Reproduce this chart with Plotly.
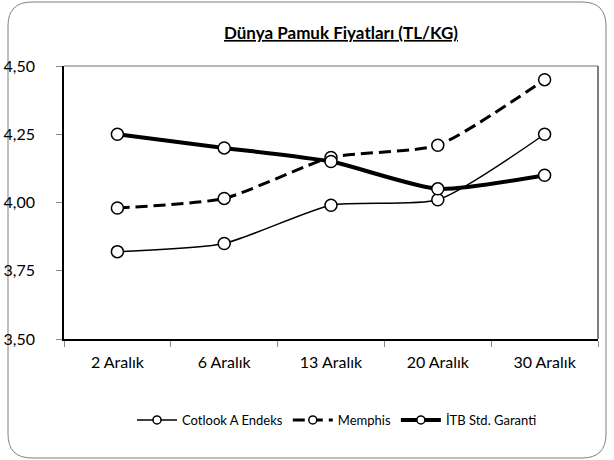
import plotly.graph_objects as go

categories = ["2 Aralık", "6 Aralık", "13 Aralık", "20 Aralık", "30 Aralık"]
cotlook = [3.82, 3.85, 3.99, 4.01, 4.25]
memphis = [3.98, 4.015, 4.165, 4.21, 4.45]
itb = [4.25, 4.20, 4.15, 4.05, 4.10]
series_names = ["Cotlook A Endeks", "Memphis", "İTB Std. Garanti"]
title_text = "Dünya Pamuk Fiyatları (TL/KG)"

FONT = "Lato, Open Sans, sans-serif"

line_styles = [
    dict(color="black", width=1.5),
    dict(color="black", width=3, dash="12px,6px"),
    dict(color="black", width=4),
]
series_values = [cotlook, memphis, itb]

fig = go.Figure()
for name, vals, ls in zip(series_names, series_values, line_styles):
    fig.add_trace(go.Scatter(
        x=categories, y=vals, name=name, mode="lines+markers", showlegend=False,
        line=dict(**ls, shape="spline", smoothing=0.6),
        marker=dict(symbol="circle", size=12, color="white", line=dict(color="black", width=1.5))))
# legend entries (smaller markers as in the reference legend)
for name, ls in zip(series_names, line_styles):
    fig.add_trace(go.Scatter(
        x=[None], y=[None], name=name, mode="lines+markers", showlegend=True,
        line=dict(**ls),
        marker=dict(symbol="circle", size=8, color="white", line=dict(color="black", width=1.5))))

L, R, T, B = 64, 598, 66, 339
W, H = 614, 460
pw, ph = R - L, B - T

def px(x):
    return (x - L) / pw

def py(y):
    return (B - y) / ph

# rounded outer border
x0, x1, y0, y1 = px(8), px(606), py(458), py(2)
rx, ry = 24 / pw, 24 / ph
path = (f"M {x0+rx},{y1} L {x1-rx},{y1} Q {x1},{y1} {x1},{y1-ry} "
        f"L {x1},{y0+ry} Q {x1},{y0} {x1-rx},{y0} L {x0+rx},{y0} "
        f"Q {x0},{y0} {x0},{y0+ry} L {x0},{y1-ry} Q {x0},{y1} {x0+rx},{y1} Z")

fig.update_layout(
    width=W, height=H,
    margin=dict(l=L, r=W - R, t=T, b=H - B, autoexpand=False),
    paper_bgcolor="white", plot_bgcolor="white",
    separators=",.",
    font=dict(family=FONT, color="black", size=16),
    title=dict(text=f"<b><u>{title_text}</u></b>", x=341 / W, xref="container", xanchor="center",
               y=1 - 33 / H, yref="container", yanchor="middle", font=dict(size=17, family=FONT),
               automargin=False),
    showlegend=True,
    legend=dict(orientation="h", x=px(337), xanchor="center", y=py(420), yanchor="middle",
                font=dict(size=13, family=FONT), bgcolor="rgba(0,0,0,0)", traceorder="normal",
                itemwidth=40),
    shapes=[
        dict(type="path", path=path, xref="paper", yref="paper",
             line=dict(color="#7f7f7f", width=1), layer="below"),
        dict(type="line", xref="paper", yref="paper", x0=0, x1=1, y0=1, y1=1,
             line=dict(color="#a0a0a0", width=1.5), layer="below"),
        dict(type="line", xref="paper", yref="paper", x0=1, x1=1, y0=0, y1=1,
             line=dict(color="#555555", width=1.5), layer="below"),
    ],
)
fig.update_xaxes(type="category", range=[-0.5, 4.5], showgrid=False, showline=True,
                 linecolor="black", linewidth=1.5,
                 ticks="outside", tickson="boundaries", ticklen=6, tickcolor="#888888",
                 tickfont=dict(size=16, family=FONT), ticklabelstandoff=8, automargin=False)
fig.update_yaxes(range=[3.5, 4.5], dtick=0.25, tickformat=".2f", showgrid=False, showline=True,
                 linecolor="black", linewidth=1.5, ticks="outside", ticklen=6, tickcolor="#888888",
                 tickfont=dict(size=16, family=FONT), ticklabelstandoff=18, zeroline=False,
                 automargin=False)

fig.write_html("out.html", config={"displayModeBar": False},
               post_script="document.body.style.margin='0';document.body.style.overflow='hidden';")
